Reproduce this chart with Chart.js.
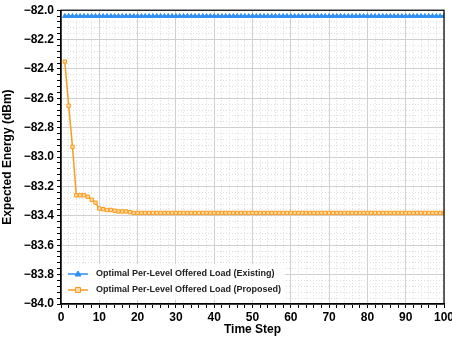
<!DOCTYPE html>
<html><head><meta charset="utf-8">
<script src="https://cdn.jsdelivr.net/npm/chart.js@4"></script>
<style>html,body{margin:0;padding:0;background:#fff}#w{width:452px;height:337px}</style>
</head><body><div id="w"><canvas id="c" width="452" height="337"></canvas></div>
<script>
const timeSteps = [1,2,3,4,5,6,7,8,9,10,11,12,13,14,15,16,17,18,19,20,21,22,23,24,25,26,27,28,29,30,31,32,33,34,35,36,37,38,39,40,41,42,43,44,45,46,47,48,49,50,51,52,53,54,55,56,57,58,59,60,61,62,63,64,65,66,67,68,69,70,71,72,73,74,75,76,77,78,79,80,81,82,83,84,85,86,87,88,89,90,91,92,93,94,95,96,97,98,99,100];
const existingEnergy = [-82.04,-82.04,-82.04,-82.04,-82.04,-82.04,-82.04,-82.04,-82.04,-82.04,-82.04,-82.04,-82.04,-82.04,-82.04,-82.04,-82.04,-82.04,-82.04,-82.04,-82.04,-82.04,-82.04,-82.04,-82.04,-82.04,-82.04,-82.04,-82.04,-82.04,-82.04,-82.04,-82.04,-82.04,-82.04,-82.04,-82.04,-82.04,-82.04,-82.04,-82.04,-82.04,-82.04,-82.04,-82.04,-82.04,-82.04,-82.04,-82.04,-82.04,-82.04,-82.04,-82.04,-82.04,-82.04,-82.04,-82.04,-82.04,-82.04,-82.04,-82.04,-82.04,-82.04,-82.04,-82.04,-82.04,-82.04,-82.04,-82.04,-82.04,-82.04,-82.04,-82.04,-82.04,-82.04,-82.04,-82.04,-82.04,-82.04,-82.04,-82.04,-82.04,-82.04,-82.04,-82.04,-82.04,-82.04,-82.04,-82.04,-82.04,-82.04,-82.04,-82.04,-82.04,-82.04,-82.04,-82.04,-82.04,-82.04,-82.04];
const proposedEnergy = [-82.35,-82.65,-82.93,-83.26,-83.26,-83.26,-83.27,-83.29,-83.31,-83.35,-83.355,-83.36,-83.36,-83.365,-83.37,-83.37,-83.37,-83.375,-83.38,-83.38,-83.38,-83.38,-83.38,-83.38,-83.38,-83.38,-83.38,-83.38,-83.38,-83.38,-83.38,-83.38,-83.38,-83.38,-83.38,-83.38,-83.38,-83.38,-83.38,-83.38,-83.38,-83.38,-83.38,-83.38,-83.38,-83.38,-83.38,-83.38,-83.38,-83.38,-83.38,-83.38,-83.38,-83.38,-83.38,-83.38,-83.38,-83.38,-83.38,-83.38,-83.38,-83.38,-83.38,-83.38,-83.38,-83.38,-83.38,-83.38,-83.38,-83.38,-83.38,-83.38,-83.38,-83.38,-83.38,-83.38,-83.38,-83.38,-83.38,-83.38,-83.38,-83.38,-83.38,-83.38,-83.38,-83.38,-83.38,-83.38,-83.38,-83.38,-83.38,-83.38,-83.38,-83.38,-83.38,-83.38,-83.38,-83.38,-83.38,-83.38];
const seriesLabels = ['Optimal Per-Level Offered Load (Existing)','Optimal Per-Level Offered Load (Proposed)'];
const xTitle = 'Time Step';
const yTitle = 'Expected Energy (dBm)';

const BLUE = '#2f8ff2', ORANGE = '#f99b1c';
const FONT = "'Liberation Sans', Arial, sans-serif";
const isMult = (v, m) => Math.abs(v / m - Math.round(v / m)) < 1e-6;

const framePlugin = {
  id: 'frame',
  afterDraw(chart) {
    const {ctx, chartArea: a} = chart;
    ctx.save();
    const lx = a.left + 2, ly = a.bottom - 40, lw = 222, lh = 36;
    ctx.fillStyle = 'rgba(255,255,255,0.85)';
    ctx.fillRect(lx, ly, lw, lh);
    ctx.font = 'bold 9px ' + FONT;
    ctx.textBaseline = 'middle';
    chart.data.datasets.forEach((ds, i) => {
      const y = ly + 10 + i * 16;
      ctx.strokeStyle = ds.borderColor; ctx.lineWidth = 1.5;
      ctx.beginPath(); ctx.moveTo(lx + 5, y); ctx.lineTo(lx + 25, y); ctx.stroke();
      ctx.fillStyle = ds.pointBackgroundColor; ctx.strokeStyle = ds.pointBorderColor; ctx.lineWidth = 1;
      ctx.beginPath();
      if (ds.pointStyle === 'triangle') {
        ctx.moveTo(lx + 15, y - 3); ctx.lineTo(lx + 18, y + 2); ctx.lineTo(lx + 12, y + 2); ctx.closePath();
      } else { ctx.rect(lx + 12.5, y - 2.5, 5, 5); }
      ctx.fill(); ctx.stroke();
      ctx.fillStyle = '#222';
      ctx.fillText(ds.label, lx + 33, y);
    });
    ctx.strokeStyle = '#000'; ctx.lineWidth = 1.2;
    ctx.strokeRect(a.left, a.top, a.right - a.left, a.bottom - a.top);
    ctx.restore();
  }
};

new Chart(document.getElementById('c'), {
  type: 'line',
  data: {
    datasets: [
      { label: seriesLabels[0], data: timeSteps.map((t, i) => ({x: t, y: existingEnergy[i]})),
        borderColor: BLUE, backgroundColor: BLUE, pointBackgroundColor: BLUE, pointBorderColor: BLUE,
        pointStyle: 'triangle', pointRadius: 2.6, borderWidth: 1.5, pointBorderWidth: 1 },
      { label: seriesLabels[1], data: timeSteps.map((t, i) => ({x: t, y: proposedEnergy[i]})),
        borderColor: ORANGE, backgroundColor: ORANGE, pointBackgroundColor: '#ffd9a6', pointBorderColor: ORANGE,
        pointStyle: 'rect', pointRadius: 2.4, borderWidth: 1.5, pointBorderWidth: 1 }
    ]
  },
  options: {
    responsive: false, animation: false, devicePixelRatio: 1,
    layout: { padding: { left: 0, right: 8, top: 8, bottom: 0 } },
    plugins: { legend: { display: false }, tooltip: { enabled: false } },
    scales: {
      xm: { type: 'linear', position: 'bottom', min: 0, max: 100, weight: 10,
        ticks: { display: false, stepSize: 2, autoSkip: false, maxTicksLimit: 1000 },
        grid: { drawTicks: false, color: '#d6d6d6', lineWidth: 0.8 }, border: { display: false, dash: [1, 2] },
        afterFit(s) { s.height = 0; s.paddingLeft = 0; s.paddingRight = 0; } },
      ym: { type: 'linear', position: 'left', min: -84, max: -82, weight: 10,
        ticks: { display: false, stepSize: 0.04, autoSkip: false, maxTicksLimit: 1000 },
        grid: { drawTicks: false, color: '#d6d6d6', lineWidth: 0.8 }, border: { display: false, dash: [1, 2] },
        afterFit(s) { s.width = 0; } },
      x: { type: 'linear', position: 'bottom', min: 0, max: 100, weight: 0,
        ticks: { stepSize: 2, autoSkip: false, maxTicksLimit: 1000, maxRotation: 0, padding: 2,
          color: '#000', font: { family: FONT, size: 12, weight: 'bold' },
          callback: v => isMult(v, 10) ? String(Math.round(v)) : '' },
        grid: { color: c => (c.tick && isMult(c.tick.value, 10)) ? '#d0d0d0' : 'rgba(0,0,0,0)',
          tickColor: '#000', tickLength: 4, lineWidth: 1 },
        border: { color: '#000', width: 1.2 },
        title: { display: true, text: xTitle, color: '#000', font: { family: FONT, size: 12, weight: 'bold' }, padding: { top: 1, bottom: 0 } },
        afterFit(s) { s.height = 33; s.paddingLeft = 0; s.paddingRight = 0; } },
      y: { type: 'linear', position: 'left', min: -84, max: -82, weight: 0,
        ticks: { stepSize: 0.04, autoSkip: false, maxTicksLimit: 1000, padding: 3,
          color: '#000', font: { family: FONT, size: 12, weight: 'bold' },
          callback: v => isMult(v, 0.2) ? (v < 0 ? '\u2212' : '') + Math.abs(v).toFixed(1) : '' },
        grid: { color: c => (c.tick && isMult(c.tick.value, 0.2)) ? '#d0d0d0' : 'rgba(0,0,0,0)',
          tickColor: '#000', tickLength: 4, lineWidth: 1 },
        border: { color: '#000', width: 1.2 },
        title: { display: true, text: yTitle, color: '#000', font: { family: FONT, size: 12, weight: 'bold' }, padding: { top: 0, bottom: 2 } },
        afterFit(s) { s.width = 61; } }
    }
  },
  plugins: [framePlugin]
});
</script></body></html>
